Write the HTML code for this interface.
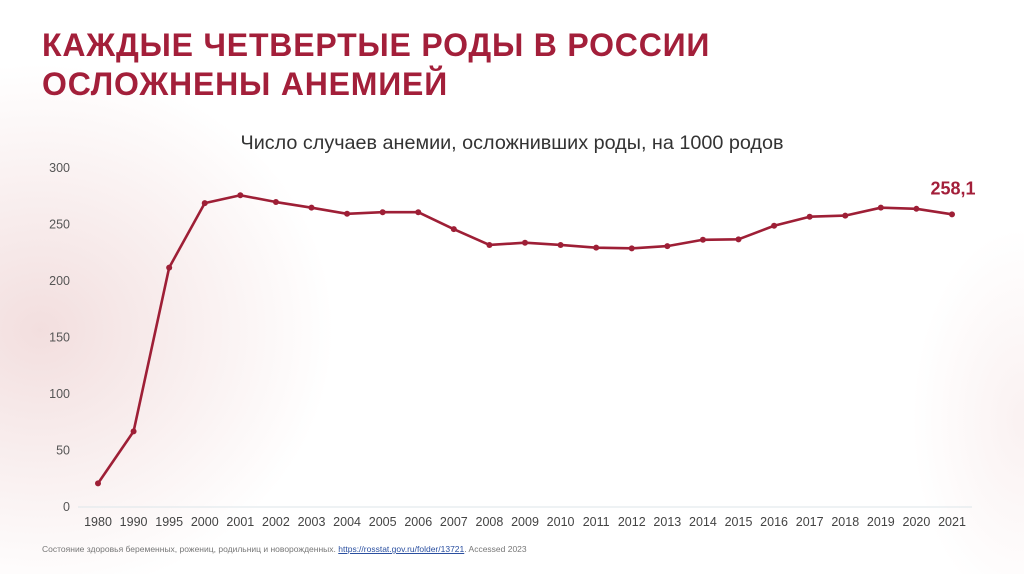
<!DOCTYPE html>
<html><head><meta charset="utf-8">
<style>
body{margin:0;width:1024px;height:574px;overflow:hidden;font-family:"Liberation Sans","Noto Sans CJK SC",sans-serif;background:#fff;position:relative}
.bg{position:absolute;left:0;top:0;width:1024px;height:574px;background:radial-gradient(ellipse 420px 380px at 40px 330px,rgba(230,190,190,0.5),rgba(255,255,255,0) 70%),radial-gradient(ellipse 140px 240px at 1024px 420px,rgba(235,200,200,0.25),rgba(255,255,255,0) 80%)}
h1{position:absolute;left:42px;top:26px;margin:0;font-size:32px;line-height:39px;font-weight:bold;color:#a31f3a;letter-spacing:0.8px}
.foot{position:absolute;left:42px;top:544px;font-size:8.5px;color:#777}
.foot a{color:#2a4fa0;text-decoration:underline}
svg{position:absolute;left:0;top:0}
</style></head><body>
<div class="bg"></div>
<h1>КАЖДЫЕ ЧЕТВЕРТЫЕ РОДЫ В РОССИИ<br>ОСЛОЖНЕНЫ АНЕМИЕЙ</h1>
<svg id="chart" width="1024" height="574"></svg>
<div class="foot">Состояние здоровья беременных, рожениц, родильниц и новорожденных. <a>https://rosstat.gov.ru/folder/13721</a>. Accessed 2023</div>
<script>
const years=["1980","1990","1995","2000","2001","2002","2003","2004","2005","2006","2007","2008","2009","2010","2011","2012","2013","2014","2015","2016","2017","2018","2019","2020","2021"];
const values=[20,66,211,268,275,269,264,258.6,260,260,245,231,233,231,228.6,228,230,235.6,236,248,256,257,264,263,258.1];
const yTicks=[0,50,100,150,200,250,300];
const chartTitle="Число случаев анемии, осложнивших роды, на 1000 родов";
const lastLabel="258,1";
const NS="http://www.w3.org/2000/svg";
const svg=document.getElementById('chart');
const x0=98,x1=952,yb=506,yt=167,ymax=300;
const xs=i=>x0+(x1-x0)*i/(years.length-1);
const ys=v=>yb-(yb-yt)*v/ymax;
function mk(t,a){const e=document.createElementNS(NS,t);for(const k in a)e.setAttribute(k,a[k]);svg.appendChild(e);return e;}
let e=mk('text',{x:512,y:149,'text-anchor':'middle','font-size':19.8,fill:'#333'});e.textContent=chartTitle;


e=mk('line',{x1:78,x2:972,y1:yb+1,y2:yb+1,stroke:'#dde6ea','stroke-width':1});


yTicks.forEach(t=>{const el=mk('text',{x:70,y:ys(t)+5,'text-anchor':'end','font-size':12.5,fill:'#555'});el.textContent=t;

});
years.forEach((y,i)=>{const el=mk('text',{x:xs(i),y:526,'text-anchor':'middle','font-size':12.5,fill:'#444'});el.textContent=y;

});
const pts=values.map((v,i)=>xs(i)+','+ys(v)).join(' ');
e=mk('polyline',{points:pts,fill:'none',stroke:'#9e1f36','stroke-width':2.6,'stroke-linejoin':'round'});


values.forEach((v,i)=>{const c=mk('circle',{cx:xs(i),cy:ys(v),r:3,fill:'#9e1f36'});

});
e=mk('text',{x:xs(values.length-1)+1,y:ys(values[values.length-1])-20,'text-anchor':'middle','font-size':18,'font-weight':'bold',fill:'#a31f3a'});e.textContent=lastLabel;


</script>
</body></html>
